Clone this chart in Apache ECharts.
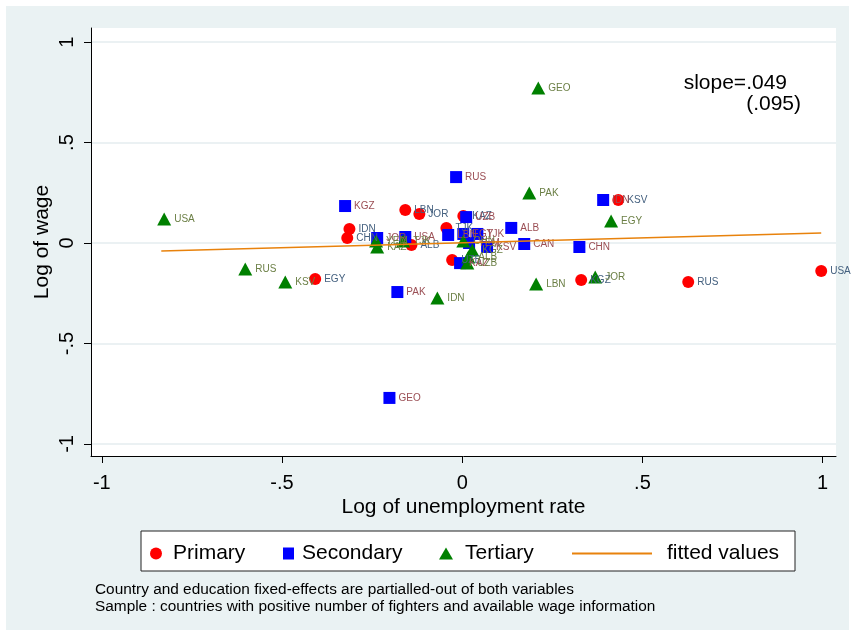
<!DOCTYPE html>
<html>
<head>
<meta charset="utf-8">
<script src="https://cdn.jsdelivr.net/npm/echarts@6/dist/echarts.min.js"></script>
<style>
  html, body { margin: 0; padding: 0; background: #fff; }
  #chart { width: 855px; height: 636px; }
</style>
</head>
<body>
<div id="chart"></div>
<script>
// 初等教育 (Primary)
var priNames = ['EGY', 'RUS', 'USA', 'KGZ', 'KSV', 'LBN', 'JOR', 'IDN', 'CHN', 'ALB', 'TJK', 'UZB', 'KAZ']
var priX = [-0.408, 0.627, 0.996, 0.330, 0.433, -0.158, -0.119, -0.313, -0.319, -0.141, -0.044, -0.028, 0.003]
var priY = [-0.179, -0.194, -0.139, -0.184, 0.214, 0.164, 0.144, 0.070, 0.025, -0.010, 0.075, -0.085, 0.134]

// 中等教育 (Secondary)
var secNames = ['RUS', 'KGZ', 'PAK', 'GEO', 'ALB', 'CAN', 'CHN', 'IDN', 'JOR', 'USA', 'UZB', 'LBN', 'EGY', 'TJK', 'KSV', 'KAZ', 'YEM']
var secX = [-0.017, -0.325, -0.180, -0.202, 0.136, 0.172, 0.325, 0.391, -0.236, -0.158, 0.011, -0.039, 0.003, 0.042, 0.069, -0.006, 0.019]
var secY = [0.328, 0.184, -0.244, -0.771, 0.075, -0.005, -0.020, 0.214, 0.025, 0.030, 0.129, 0.040, 0.045, 0.045, -0.020, -0.100, 0.000]

// 高等教育 (Tertiary)
var terNames = ['GEO', 'PAK', 'USA', 'RUS', 'KSV', 'IDN', 'EGY', 'JOR', 'LBN', 'KAZ', 'YEM', 'TJK', 'CHN', 'ALB', 'UZB', 'KGZ']
var terX = [0.211, 0.186, -0.827, -0.602, -0.491, -0.069, 0.413, 0.369, 0.205, -0.236, -0.239, -0.164, 0.003, 0.017, 0.014, 0.028]
var terY = [0.771, 0.249, 0.119, -0.129, -0.194, -0.274, 0.109, -0.169, -0.204, -0.020, 0.010, 0.010, 0.010, -0.070, -0.100, -0.035]

// 拟合线
var fitX = [-0.835, 0.996]
var fitY = [-0.040, 0.050]

// 刻度
var xTicks = [-1, -0.5, 0, 0.5, 1]
var xTickLabels = ['-1', '-.5', '0', '.5', '1']
var yTicks = [-1, -0.5, 0, 0.5, 1]
var yTickLabels = ['-1', '-.5', '0', '.5', '1']

var FONT = '"Liberation Sans", Arial, sans-serif'

function zipPoints (xs, ys, names) {
  var out = []
  for (var i = 0; i < xs.length; i++) {
    out.push(names ? [xs[i], ys[i], names[i]] : [xs[i], ys[i]])
  }
  return out
}

function tickLabel (ticks, labels) {
  return function (value) {
    for (var i = 0; i < ticks.length; i++) {
      if (Math.abs(ticks[i] - value) < 1e-6) return labels[i]
    }
    return ''
  }
}

function scatterSeries (name, xs, ys, names, symbol, size, color, labelColor) {
  return {
    name: name,
    type: 'scatter',
    symbol: symbol,
    symbolSize: size,
    itemStyle: { color: color, opacity: 1 },
    label: {
      show: true,
      position: 'right',
      distance: 3,
      fontFamily: FONT,
      fontSize: 10,
      color: labelColor,
      formatter: function (p) { return p.data[2] }
    },
    labelLayout: { hideOverlap: false },
    emphasis: { disabled: true },
    data: zipPoints(xs, ys, names)
  }
}

// 图例：每项单独定位
function legendItem (left, width, height, padLeft, item) {
  return {
    top: 543,
    left: left,
    padding: 0,
    itemWidth: width,
    itemHeight: height,
    selectedMode: false,
    textStyle: { fontFamily: FONT, fontSize: 21, color: '#000', padding: [0, 0, 0, padLeft] },
    data: [item]
  }
}

var chart = echarts.init(document.getElementById('chart'))

var options = {
  backgroundColor: '#fff',
  animation: false,
  graphic: [
    // 外层背景
    {
      type: 'rect',
      z: -10,
      shape: { x: 6, y: 6, width: 843, height: 624 },
      style: { fill: '#EAF2F3' }
    },
    // 图例框
    {
      type: 'rect',
      z: 1,
      shape: { x: 141, y: 531, width: 654, height: 40 },
      style: { fill: '#fff', stroke: '#222', lineWidth: 1 }
    },
    {
      type: 'text',
      z: 5,
      style: { x: 787, y: 83, text: 'slope=.049', textAlign: 'right', textVerticalAlign: 'middle', font: '21px ' + FONT, fill: '#000' }
    },
    {
      type: 'text',
      z: 5,
      style: { x: 801, y: 104, text: '(.095)', textAlign: 'right', textVerticalAlign: 'middle', font: '21px ' + FONT, fill: '#000' }
    },
    {
      type: 'text',
      z: 5,
      style: { x: 95, y: 590, text: 'Country and education fixed-effects are partialled-out of both variables', textVerticalAlign: 'middle', font: '15.4px ' + FONT, fill: '#000' }
    },
    {
      type: 'text',
      z: 5,
      style: { x: 95, y: 607, text: 'Sample : countries with positive number of fighters and available wage information', textVerticalAlign: 'middle', font: '15.4px ' + FONT, fill: '#000' }
    }
  ],
  legend: [
    legendItem(150, 12, 12, 6, 'Primary'),
    legendItem(283, 11, 12, 3, 'Secondary'),
    legendItem(439, 14, 12, 7, 'Tertiary'),
    legendItem(572, 80, 2, 10, { name: 'fitted values', icon: 'rect' })
  ],
  grid: {
    left: 91,
    top: 28,
    width: 745,
    height: 428,
    show: true,
    backgroundColor: '#fff',
    borderWidth: 0
  },
  xAxis: {
    type: 'value',
    min: -1.03,
    max: 1.037,
    name: 'Log of unemployment rate',
    nameLocation: 'middle',
    nameGap: 41,
    nameMoveOverlap: false,
    nameTextStyle: { fontFamily: FONT, fontSize: 21, color: '#000' },
    axisLine: { show: true, onZero: false, lineStyle: { color: '#000', width: 1 } },
    axisTick: { show: true, length: 7, customValues: xTicks, lineStyle: { color: '#000' } },
    axisLabel: {
      customValues: xTicks,
      margin: 17,
      fontFamily: FONT,
      fontSize: 20,
      color: '#000',
      formatter: tickLabel(xTicks, xTickLabels)
    },
    splitLine: { show: false }
  },
  yAxis: {
    type: 'value',
    min: -1.06,
    max: 1.07,
    name: 'Log of wage',
    nameLocation: 'middle',
    nameGap: 38,
    nameMoveOverlap: false,
    nameTextStyle: { fontFamily: FONT, fontSize: 21, color: '#000' },
    axisLine: { show: true, onZero: false, lineStyle: { color: '#000', width: 1 } },
    axisTick: { show: true, length: 7, customValues: yTicks, lineStyle: { color: '#000' } },
    axisLabel: {
      customValues: yTicks,
      rotate: 90,
      margin: 14,
      fontFamily: FONT,
      fontSize: 20,
      color: '#000',
      formatter: tickLabel(yTicks, yTickLabels)
    },
    splitLine: { show: true, lineStyle: { color: '#E4EDEF', width: 1.5 } }
  },
  series: [
    scatterSeries('Primary', priX, priY, priNames, 'circle', 12, '#FF0000', '#44607F'),
    scatterSeries('Secondary', secX, secY, secNames, 'rect', 12, '#0000FF', '#9B4F55'),
    scatterSeries('Tertiary', terX, terY, terNames, 'triangle', [14, 13], '#008000', '#6B7F45'),
    {
      name: 'fitted values',
      type: 'line',
      symbol: 'none',
      lineStyle: { color: '#E8820C', width: 1.6 },
      itemStyle: { color: '#E8820C' },
      emphasis: { disabled: true },
      data: zipPoints(fitX, fitY)
    }
  ]
}

chart.setOption(options, true)
</script>
</body>
</html>
